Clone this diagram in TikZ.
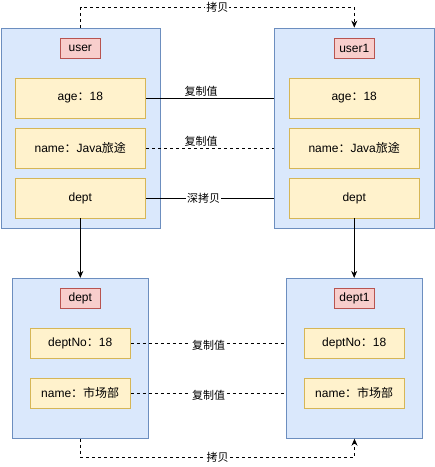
\documentclass[tikz,border=0pt]{standalone}
\usepackage{fontspec}
\setmainfont{Liberation Sans}
\newfontfamily\cjk{Noto Sans CJK SC}
\usetikzlibrary{arrows.meta,calc}
\definecolor{outerfill}{HTML}{DAE8FC}
\definecolor{outerdraw}{HTML}{6C8EBF}
\definecolor{labfill}{HTML}{F8CECC}
\definecolor{labdraw}{HTML}{B85450}
\definecolor{fldfill}{HTML}{FFF2CC}
\definecolor{flddraw}{HTML}{D6B656}
\begin{document}
\begin{tikzpicture}[x=1pt,y=-1pt,
  outer/.style={draw=outerdraw,fill=outerfill,line width=0.8pt,inner sep=0pt},
  lab/.style={draw=labdraw,fill=labfill,line width=0.8pt,minimum width=40pt,minimum height=20.5pt,inner sep=0pt,font=\fontsize{12}{14}\selectfont},
  fld/.style={draw=flddraw,fill=fldfill,line width=0.8pt,inner sep=0pt,font=\fontsize{12}{14}\selectfont},
  conn/.style={line width=0.8pt},
  dconn/.style={line width=0.8pt,dash pattern=on 3pt off 3pt},
  arr/.style={-{Stealth[length=7pt,width=6pt]}},
  elab/.style={font=\fontsize{11}{13}\selectfont\cjk,fill=white,inner sep=1pt}
]
\useasboundingbox (0,0) rectangle (435,467);
% user
\node[outer,minimum width=159pt,minimum height=200pt] (user) at (80.5,128) {};
\node[lab] (ulab) at (80.3,48.3) {user};
\node[fld,minimum width=130.7pt,minimum height=40pt] (uage) at (80.3,98) {age{\cjk ：}18};
\node[fld,minimum width=130.7pt,minimum height=40pt] (uname) at (80.3,148) {name{\cjk ：}Java{\cjk 旅途}};
\node[fld,minimum width=130.7pt,minimum height=40pt] (udept) at (80.3,198) {dept};
% user1
\node[outer,minimum width=160pt,minimum height=200pt] (user1) at (354.3,128) {};
\node[lab] (u1lab) at (354.3,48.3) {user1};
\node[fld,minimum width=130.3pt,minimum height=40pt] (u1age) at (354.2,98) {age{\cjk ：}18};
\node[fld,minimum width=130.3pt,minimum height=40pt] (u1name) at (354.2,148) {name{\cjk ：}Java{\cjk 旅途}};
\node[fld,minimum width=130.3pt,minimum height=40pt] (u1dept) at (354.2,198) {dept};
% dept
\node[outer,minimum width=135.6pt,minimum height=160pt] (dept) at (80.5,358.3) {};
\node[lab] (dlab) at (80.3,298.3) {dept};
\node[fld,minimum width=100.3pt,minimum height=30pt] (dno) at (80.2,343.3) {deptNo{\cjk ：}18};
\node[fld,minimum width=100.3pt,minimum height=30pt] (dname) at (80.2,393.3) {name{\cjk ：市场部}};
% dept1
\node[outer,minimum width=135.6pt,minimum height=160pt] (dept1) at (354.5,358.3) {};
\node[lab] (d1lab) at (354.5,298.3) {dept1};
\node[fld,minimum width=100.3pt,minimum height=30pt] (d1no) at (354.2,343.3) {deptNo{\cjk ：}18};
\node[fld,minimum width=100.3pt,minimum height=30pt] (d1name) at (354.2,393.3) {name{\cjk ：市场部}};
% connectors top
\draw[conn] (uage.east) -- node[elab,pos=0.43,above=0pt,fill=none] {复制值} (uage.east -| user1.west);
\draw[dconn] (uname.east) -- node[elab,pos=0.43,above=0pt,fill=none] {复制值} (uname.east -| user1.west);
\draw[conn] (udept.east) -- node[elab,pos=0.45] {深拷贝} (udept.east -| user1.west);
\coordinate (tl) at ($(user.north)+(0,-20.5)$);
\coordinate (tr) at ($(user1.north)+(0,-20.5)$);
\draw[dconn,arr] (user.north) -- (tl) -- node[elab,pos=0.5] {拷贝} (tr) -- (user1.north);
% down arrows
\draw[conn,arr] (udept.south) -- (udept.south |- dept.north);
\draw[conn,arr] (u1dept.south) -- (u1dept.south |- dept1.north);
% bottom connectors
\draw[dconn] (dno.east) -- node[elab,pos=0.5,yshift=-2pt] {复制值} (dno.east -| dept1.west);
\draw[dconn] (dname.east) -- node[elab,pos=0.5,yshift=-2pt] {复制值} (dname.east -| dept1.west);
\coordinate (bl) at ($(dept.south)+(0,18.5)$);
\coordinate (br) at ($(dept1.south)+(0,18.5)$);
\draw[dconn,arr] (dept.south) -- (bl) -- node[elab,pos=0.5] {拷贝} (br) -- (dept1.south);
\end{tikzpicture}
\end{document}
